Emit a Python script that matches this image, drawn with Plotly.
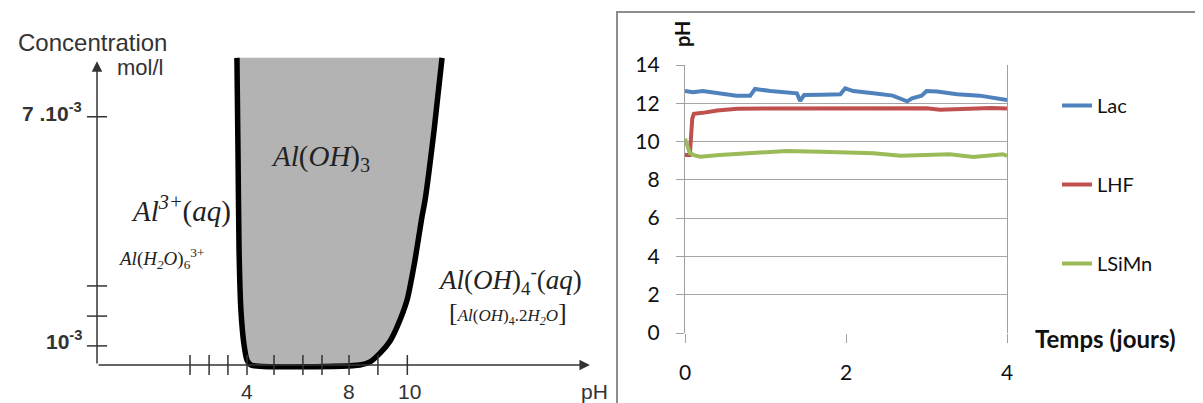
import plotly.graph_objects as go

# ---------------- Left panel: Al(OH)3 solubility diagram (schematic) ----------------
# Boundary of the Al(OH)3 precipitation domain (pH, concentration in 10^-3 mol/l, schematic scale)
left_bound_ph = [3.62, 3.66, 3.70, 3.77, 3.89, 4.00, 4.15]
left_bound_c = [8.54, 6.13, 3.51, 1.94, 1.02, 0.63, 0.50]
right_bound_ph = [8.26, 8.64, 9.02, 9.40, 9.66, 10.04, 10.34, 10.60, 10.72, 11.06, 11.36]
right_bound_c = [0.50, 0.58, 0.81, 1.13, 1.49, 2.20, 3.25, 4.37, 4.82, 6.65, 8.54]

# axis definitions of the schematic
ph_origin = -1.66
c_origin = 0.50
ph_axis_end = 16.94
c_axis_end = 8.45
ph_ticks = [1.85, 2.57, 3.28, 4.0, 5.02, 6.11, 6.83, 7.85, 8.94, 10.05]
ph_tick_labels = {4.0: "4", 7.85: "8", 10.15: "10"}
c_ticks = [1.0, 1.78, 2.57, 7.0]

# ---------------- Right panel: pH vs time ----------------
lac_days = [0, 0.10, 0.22, 0.35, 0.50, 0.64, 0.81, 0.87, 1.06, 1.25, 1.39, 1.43, 1.48,
            1.70, 1.93, 1.99, 2.09, 2.34, 2.58, 2.76, 2.82, 2.94, 3.00, 3.13, 3.38,
            3.66, 3.85, 4.00]
lac_ph = [12.64, 12.58, 12.64, 12.57, 12.50, 12.40, 12.40, 12.75, 12.64, 12.58, 12.52,
          12.12, 12.43, 12.45, 12.47, 12.78, 12.64, 12.52, 12.40, 12.10, 12.26, 12.40,
          12.64, 12.61, 12.47, 12.40, 12.30, 12.17]

lhf_days = [0, 0.06, 0.09, 0.11, 0.22, 0.40, 0.65, 1.00, 1.40, 2.00, 2.50, 3.00, 3.17,
            3.50, 3.80, 4.00]
lhf_ph = [9.30, 9.30, 11.20, 11.45, 11.50, 11.62, 11.72, 11.72, 11.75, 11.76, 11.76,
          11.74, 11.66, 11.70, 11.76, 11.73]

lsimn_days = [0, 0.03, 0.06, 0.12, 0.19, 0.43, 0.85, 1.26, 1.68, 2.05, 2.34, 2.68, 2.96,
              3.29, 3.58, 3.95, 4.00]
lsimn_ph = [10.15, 9.80, 9.40, 9.28, 9.21, 9.30, 9.39, 9.51, 9.47, 9.44, 9.39, 9.26,
            9.30, 9.34, 9.20, 9.34, 9.25]

y_ticks = [0, 2, 4, 6, 8, 10, 12, 14]
x_ticks = [0, 2, 4]

W, H = 1203, 403
OFF = 8  # page body margin: figure is drawn 8 px right/down of the window corner
fig = go.Figure()


def px(xp):
    return (xp - OFF) / W


def py(yp):
    return 1 - (yp - OFF) / H


# --- left panel traces ---
fig.add_trace(go.Scatter(x=left_bound_ph + right_bound_ph, y=left_bound_c + right_bound_c,
                         fill="toself", fillcolor="#b3b3b3",
                         mode="lines", line=dict(width=0, color="#b3b3b3"),
                         showlegend=False, hoverinfo="skip", xaxis="x", yaxis="y"))
fig.add_trace(go.Scatter(x=left_bound_ph + right_bound_ph, y=left_bound_c + right_bound_c,
                         mode="lines", line=dict(width=5.5, color="black", shape="spline",
                                                 smoothing=0.6),
                         showlegend=False, hoverinfo="skip", xaxis="x", yaxis="y"))

# axis tick marks of the schematic (crossing the axis line)
tx, ty = [], []
for t in ph_ticks:
    tx += [t, t, None]
    ty += [c_origin - 0.26, c_origin + 0.26, None]
for c in c_ticks:
    tx += [ph_origin - 0.38, ph_origin + 0.38, None]
    ty += [c, c, None]
fig.add_trace(go.Scatter(x=tx, y=ty, mode="lines", line=dict(width=1.5, color="#333333"),
                         showlegend=False, hoverinfo="skip", xaxis="x", yaxis="y"))

# --- right panel traces ---
fig.add_trace(go.Scatter(x=lac_days, y=lac_ph, name="Lac", mode="lines",
                         line=dict(color="#4F81BD", width=4), legendgroup="a",
                         xaxis="x2", yaxis="y2"))
fig.add_trace(go.Scatter(x=lhf_days, y=lhf_ph, name="LHF", mode="lines",
                         line=dict(color="#C0504D", width=4), legendgroup="b",
                         xaxis="x2", yaxis="y2"))
fig.add_trace(go.Scatter(x=lsimn_days, y=lsimn_ph, name="LSiMn", mode="lines",
                         line=dict(color="#9BBB59", width=4), legendgroup="c",
                         xaxis="x2", yaxis="y2"))

# left axis ranges chosen so the schematic sits at the right place
px_per_ph = 26.5
px_per_c = 38.2
x0_ph = 4 - (247 - OFF) / px_per_ph
x1_ph = 4 + (W / 2 - (247 - OFF)) / px_per_ph
y0_c = c_origin - (H - (365 - OFF)) / px_per_c
y1_c = c_origin + (365 - OFF) / px_per_c

annotations = []
# axis arrows
annotations.append(dict(x=ph_axis_end, y=c_origin, ax=ph_origin, ay=c_origin, xref="x", yref="y",
                        axref="x", ayref="y", text="", showarrow=True, arrowhead=2,
                        arrowsize=1.4, arrowwidth=1.5, arrowcolor="#333333", standoff=0,
                        startstandoff=0))
annotations.append(dict(x=ph_origin, y=c_axis_end, ax=ph_origin, ay=c_origin, xref="x", yref="y",
                        axref="x", ayref="y", text="", showarrow=True, arrowhead=2,
                        arrowsize=1.4, arrowwidth=1.5, arrowcolor="#333333", standoff=0,
                        startstandoff=0))


def label(x, y, text, size, font, xref="paper", yref="paper", xanchor="center",
          yanchor="middle", **kw):
    annotations.append(dict(x=x, y=y, xref=xref, yref=yref, text=text, showarrow=False,
                            xanchor=xanchor, yanchor=yanchor,
                            font=dict(size=size, **font), **kw))


ar = dict(family="Liberation Sans, Arial", color="#333333")
for t, lab in ph_tick_labels.items():
    label(t, py(391), lab, 21, ar, xref="x")
label(px(594), py(391), "pH", 21, ar)
label(px(84), py(112), "<b>7 .10<sup>-3</sup></b>", 21, ar, xanchor="right")
label(px(84), py(340), "<b>10<sup>-3</sup></b>", 21, ar, xanchor="right")
label(px(92), py(42), "Concentration", 24, ar)
label(px(140), py(68), "mol/l", 22, ar)

tm = dict(family="Liberation Serif, Times New Roman, serif", color="#222222")
label(px(320), py(158), "<i>Al</i>(<i>OH</i>)<sub>3</sub>", 29, tm)
label(px(181), py(210), "<i>Al<sup>3+</sup></i>(<i>aq</i>)", 29, tm)
label(px(161), py(258), "<i>Al</i>(<i>H<sub>2</sub>O</i>)<sub>6</sub><sup>3+</sup>", 19, tm)
label(px(510), py(280), "<i>Al</i>(<i>OH</i>)<sub>4</sub><sup>-</sup>(<i>aq</i>)", 27, tm)
label(px(508), py(313),
      "<span style='font-size:26px'>[</span><i>Al</i>(<i>OH</i>)<sub>4</sub>.2<i>H<sub>2</sub>O</i><span style='font-size:26px'>]</span>",
      17, tm)

# right panel texts
cal = dict(family="Lato, Carlito, Calibri, sans-serif", color="#111111")
label(px(682), py(34), "<b>pH</b>", 20, cal, textangle=-90)
label(px(1033), py(338), "<b>Temps (jours)</b>", 24, cal, xanchor="left")

shapes = [dict(type="path", xref="paper", yref="paper",
               path=f"M {px(617)},{-0.05} L {px(617)},{py(12)} L 1.05,{py(12)}",
               line=dict(color="#8c8c8c", width=2))]

fig.update_layout(
    width=W, height=H, autosize=False,
    margin=dict(l=0, r=0, t=0, b=0, pad=0, autoexpand=False),
    paper_bgcolor="white", plot_bgcolor="white",
    xaxis=dict(domain=[0, 0.5], range=[x0_ph, x1_ph], visible=False, fixedrange=True),
    yaxis=dict(domain=[0, 1], range=[y0_c, y1_c], visible=False, fixedrange=True),
    xaxis2=dict(domain=[px(685), px(1007)], range=[0, 4], anchor="y2", tickvals=x_ticks,
                showgrid=False, zeroline=False, showline=False, ticks="outside", ticklen=9,
                tickcolor="#a0a0a0", tickwidth=1.3, ticklabelstandoff=12,
                tickfont=dict(size=21, **cal), tickprefix="<b>", ticksuffix="</b>"),
    yaxis2=dict(domain=[py(333), py(65)], range=[0, 14], anchor="x2",
                tickvals=y_ticks, showgrid=True, gridcolor="#a6a6a6", gridwidth=1.3,
                zeroline=False, showline=True, linecolor="#a0a0a0", linewidth=1.3, mirror=True,
                ticks="outside", ticklen=8, tickcolor="#a0a0a0", tickwidth=1.3,
                ticklabelstandoff=12, tickfont=dict(size=21, **cal),
                tickprefix="<b>", ticksuffix="</b>"),
    showlegend=True,
    legend=dict(x=px(1057), y=py(86), xanchor="left", yanchor="top",
                tracegroupgap=50, traceorder="grouped", font=dict(size=20, **cal),
                bgcolor="rgba(0,0,0,0)"),
    annotations=annotations, shapes=shapes,
)
fig.write_html("out.html")
